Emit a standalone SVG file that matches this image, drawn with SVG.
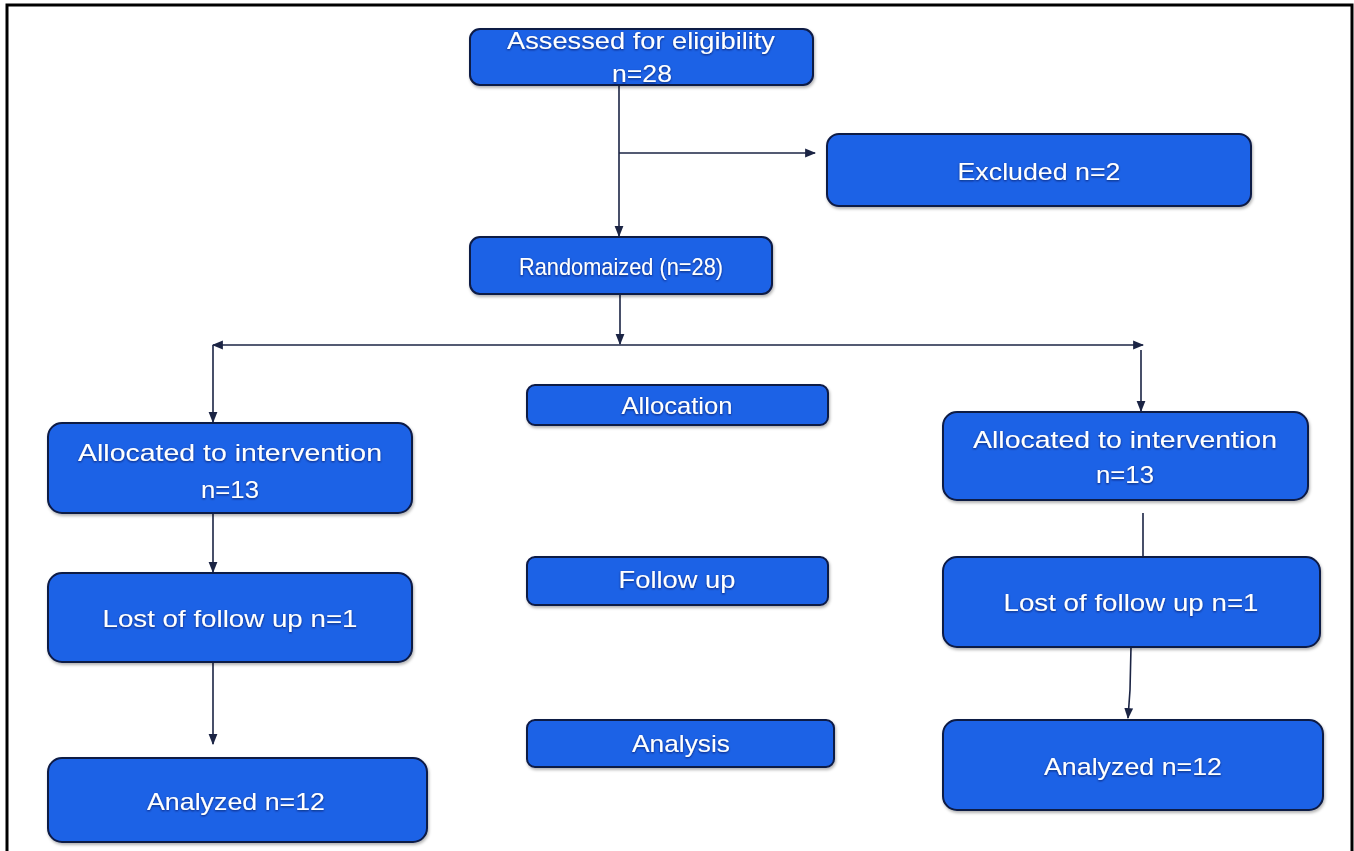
<svg xmlns="http://www.w3.org/2000/svg" width="1354" height="851" viewBox="0 0 1354 851">
<defs>
<style>
.box{fill:#1f62e6;stroke:#0b1a45;stroke-width:2;filter:url(#bs)}
.t{font-family:"Liberation Sans",Arial,sans-serif;font-size:24px;fill:#ffffff;text-anchor:middle;filter:url(#ts)}
.c{fill:none;stroke:#1b2444;stroke-width:1.6}
.ca{fill:none;stroke:#1b2444;stroke-width:1.6;marker-end:url(#ah)}
</style>
<marker id="ah" viewBox="0 0 10 10" refX="9" refY="5" markerWidth="11" markerHeight="11" orient="auto" markerUnits="userSpaceOnUse"><path d="M0,1 L10,5 L0,9 z" fill="#1b2444"/></marker>
<marker id="as" viewBox="0 0 10 10" refX="1" refY="5" markerWidth="11" markerHeight="11" orient="auto" markerUnits="userSpaceOnUse"><path d="M10,1 L0,5 L10,9 z" fill="#1b2444"/></marker>
<filter id="bs" x="-5%" y="-10%" width="110%" height="125%"><feDropShadow dx="1" dy="2" stdDeviation="1.5" flood-color="#000" flood-opacity="0.3"/></filter>
<filter id="ts" x="-5%" y="-20%" width="110%" height="140%"><feDropShadow dx="0" dy="1" stdDeviation="1" flood-color="#001040" flood-opacity="0.7"/></filter>
</defs>
<rect width="1354" height="851" fill="#ffffff"/>
<path d="M7,851 V5 H1352 V851" fill="none" stroke="#000" stroke-width="3"/>

<g id="connectors">
<line class="c" x1="619" y1="85" x2="619" y2="153"/>
<line class="ca" x1="619" y1="153" x2="619" y2="236"/>
<line class="ca" x1="619" y1="153" x2="815" y2="153"/>
<line class="ca" x1="620" y1="294" x2="620" y2="344"/>
<line class="c" x1="213" y1="345" x2="1143" y2="345" marker-start="url(#as)" marker-end="url(#ah)"/>
<line class="ca" x1="213" y1="345" x2="213" y2="422"/>
<line class="ca" x1="1141" y1="350" x2="1141" y2="411"/>
<line class="ca" x1="213" y1="513" x2="213" y2="572"/>
<line class="ca" x1="213" y1="662" x2="213" y2="744"/>
<line class="c" x1="1143" y1="513" x2="1143" y2="557"/>
<path class="ca" d="M1131,647 L1130,690 L1128,718"/>
</g>

<g id="assessed"><rect class="box" x="470" y="29" width="343" height="56" rx="10"/>
<text class="t" x="641" y="49" textLength="268" lengthAdjust="spacingAndGlyphs">Assessed for eligibility</text>
<text class="t" x="642" y="82" textLength="60" lengthAdjust="spacingAndGlyphs">n=28</text></g>

<g id="excluded"><rect class="box" x="827" y="134" width="424" height="72" rx="12"/>
<text class="t" x="1039" y="180" textLength="163" lengthAdjust="spacingAndGlyphs">Excluded n=2</text></g>

<g id="randomized"><rect class="box" x="470" y="237" width="302" height="57" rx="10"/>
<text class="t" x="621" y="275" textLength="204" lengthAdjust="spacingAndGlyphs">Randomaized (n=28)</text></g>

<g id="allocation"><rect class="box" x="527" y="385" width="301" height="40" rx="8"/>
<text class="t" x="677" y="414" textLength="111" lengthAdjust="spacingAndGlyphs">Allocation</text></g>

<g id="alloc-left"><rect class="box" x="48" y="423" width="364" height="90" rx="14"/>
<text class="t" x="230" y="461" textLength="304" lengthAdjust="spacingAndGlyphs">Allocated to intervention</text>
<text class="t" x="230" y="498" textLength="58" lengthAdjust="spacingAndGlyphs">n=13</text></g>

<g id="alloc-right"><rect class="box" x="943" y="412" width="365" height="88" rx="14"/>
<text class="t" x="1125" y="448" textLength="304" lengthAdjust="spacingAndGlyphs">Allocated to intervention</text>
<text class="t" x="1125" y="483" textLength="58" lengthAdjust="spacingAndGlyphs">n=13</text></g>

<g id="followup"><rect class="box" x="527" y="557" width="301" height="48" rx="8"/>
<text class="t" x="677" y="588" textLength="117" lengthAdjust="spacingAndGlyphs">Follow up</text></g>

<g id="lost-left"><rect class="box" x="48" y="573" width="364" height="89" rx="14"/>
<text class="t" x="230" y="627" textLength="255" lengthAdjust="spacingAndGlyphs">Lost of follow up n=1</text></g>

<g id="lost-right"><rect class="box" x="943" y="557" width="377" height="90" rx="14"/>
<text class="t" x="1131" y="611" textLength="255" lengthAdjust="spacingAndGlyphs">Lost of follow up n=1</text></g>

<g id="analysis"><rect class="box" x="527" y="720" width="307" height="47" rx="8"/>
<text class="t" x="681" y="752" textLength="98" lengthAdjust="spacingAndGlyphs">Analysis</text></g>

<g id="analyzed-left"><rect class="box" x="48" y="758" width="379" height="84" rx="14"/>
<text class="t" x="236" y="810" textLength="178" lengthAdjust="spacingAndGlyphs">Analyzed n=12</text></g>

<g id="analyzed-right"><rect class="box" x="943" y="720" width="380" height="90" rx="14"/>
<text class="t" x="1133" y="775" textLength="178" lengthAdjust="spacingAndGlyphs">Analyzed n=12</text></g>
</svg>
